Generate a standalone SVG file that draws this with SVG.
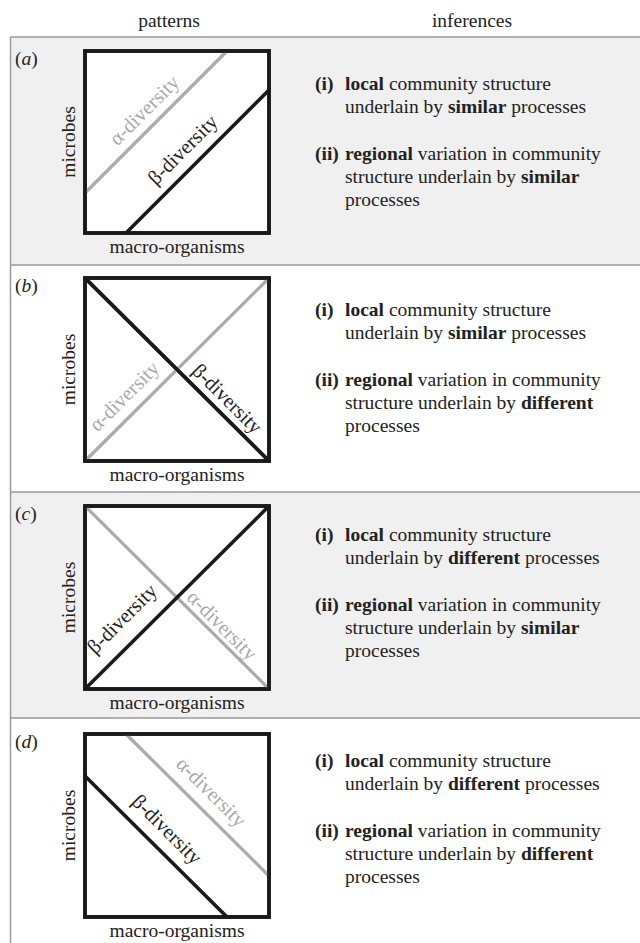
<svg xmlns="http://www.w3.org/2000/svg" width="640" height="943" viewBox="0 0 640 943">
<style>
text{font-family:"Liberation Serif","Times New Roman",serif;font-size:19.5px;fill:#222}
.b{font-weight:bold}
.it{font-style:italic}
.mid{text-anchor:middle}
.diag{font-size:20.5px;text-anchor:middle}
.ga{fill:#a9a9a9}
.box{fill:#fff;stroke:#1a1a1a;stroke-width:3.6}
.frame{fill:none;stroke:#1a1a1a;stroke-width:3.6}
.kl{stroke:#1a1a1a;stroke-width:3.6;fill:none}
.gl{stroke:#ababab;stroke-width:3.2;fill:none}
.sep{stroke:#9a9a9a;stroke-width:1.5;fill:none}
.shade{fill:#f0f0f0}
</style>

<g id="background">
<rect class="shade" x="10.5" y="37" width="630" height="228"/>
<rect class="shade" x="10.5" y="492" width="630" height="226"/>
<line class="sep" x1="10.5" y1="37" x2="640" y2="37"/>
<line class="sep" x1="10.5" y1="265" x2="640" y2="265"/>
<line class="sep" x1="10.5" y1="492" x2="640" y2="492"/>
<line class="sep" x1="10.5" y1="718" x2="640" y2="718"/>
<line class="sep" x1="10.5" y1="37" x2="10.5" y2="943"/>
</g>

<g id="header">
<text class="mid" x="169" y="27">patterns</text>
<text class="mid" x="472" y="27">inferences</text>
</g>

<g id="panel-a">
<text x="15" y="65">(<tspan class="it">a</tspan>)</text>
<rect class="box" x="85" y="51" width="184" height="182"/>
<line class="gl" x1="85" y1="193" x2="227" y2="51"/>
<line class="kl" x1="126" y1="233" x2="269" y2="90"/>
<rect class="frame" x="85" y="51" width="184" height="182"/>
<text class="diag ga" transform="translate(149,115) rotate(-45)">α-diversity</text>
<text class="diag" transform="translate(187.5,154.5) rotate(-45)">β-diversity</text>
<text class="mid" transform="translate(75,142) rotate(-90)">microbes</text>
<text class="mid" x="177" y="253">macro-organisms</text>
<text x="315" y="90"><tspan class="b">(i)</tspan></text>
<text x="345" y="90"><tspan class="b">local</tspan> community structure</text>
<text x="345" y="113">underlain by <tspan class="b">similar</tspan> processes</text>
<text x="315" y="160"><tspan class="b">(ii)</tspan></text>
<text x="345" y="160"><tspan class="b">regional</tspan> variation in community</text>
<text x="345" y="183">structure underlain by <tspan class="b">similar</tspan></text>
<text x="345" y="206">processes</text>
</g>

<g id="panel-b">
<text x="15" y="292">(<tspan class="it">b</tspan>)</text>
<rect class="box" x="85" y="278" width="184" height="183"/>
<line class="kl" x1="85" y1="278" x2="269" y2="461"/>
<line class="gl" x1="85" y1="461" x2="269" y2="278"/>
<line class="kl" x1="85" y1="278" x2="269" y2="461"/>
<rect class="frame" x="85" y="278" width="184" height="183"/>
<text class="diag ga" transform="translate(129,401) rotate(-45)">α-diversity</text>
<text class="diag" transform="translate(222.5,403.5) rotate(45)">β-diversity</text>
<text class="mid" transform="translate(75,369.5) rotate(-90)">microbes</text>
<text class="mid" x="177" y="481">macro-organisms</text>
<text x="315" y="315.5"><tspan class="b">(i)</tspan></text>
<text x="345" y="315.5"><tspan class="b">local</tspan> community structure</text>
<text x="345" y="338.5">underlain by <tspan class="b">similar</tspan> processes</text>
<text x="315" y="385.5"><tspan class="b">(ii)</tspan></text>
<text x="345" y="385.5"><tspan class="b">regional</tspan> variation in community</text>
<text x="345" y="408.5">structure underlain by <tspan class="b">different</tspan></text>
<text x="345" y="431.5">processes</text>
</g>

<g id="panel-c">
<text x="15" y="520">(<tspan class="it">c</tspan>)</text>
<rect class="box" x="85" y="506" width="184" height="183"/>
<line class="gl" x1="85" y1="506" x2="269" y2="689"/>
<line class="kl" x1="85" y1="689" x2="269" y2="506"/>
<rect class="frame" x="85" y="506" width="184" height="183"/>
<text class="diag" transform="translate(126.8,623.5) rotate(-45)">β-diversity</text>
<text class="diag ga" transform="translate(217.3,630.2) rotate(45)">α-diversity</text>
<text class="mid" transform="translate(75,597.5) rotate(-90)">microbes</text>
<text class="mid" x="177" y="709">macro-organisms</text>
<text x="315" y="541"><tspan class="b">(i)</tspan></text>
<text x="345" y="541"><tspan class="b">local</tspan> community structure</text>
<text x="345" y="564">underlain by <tspan class="b">different</tspan> processes</text>
<text x="315" y="611"><tspan class="b">(ii)</tspan></text>
<text x="345" y="611"><tspan class="b">regional</tspan> variation in community</text>
<text x="345" y="634">structure underlain by <tspan class="b">similar</tspan></text>
<text x="345" y="657">processes</text>
</g>

<g id="panel-d">
<text x="15" y="748">(<tspan class="it">d</tspan>)</text>
<rect class="box" x="85" y="734" width="184" height="183"/>
<line class="gl" x1="126" y1="734" x2="269" y2="876"/>
<line class="kl" x1="85" y1="776" x2="227" y2="917"/>
<rect class="frame" x="85" y="734" width="184" height="183"/>
<text class="diag ga" transform="translate(206.5,796.8) rotate(45)">α-diversity</text>
<text class="diag" transform="translate(162.3,834.3) rotate(45)">β-diversity</text>
<text class="mid" transform="translate(75,825.5) rotate(-90)">microbes</text>
<text class="mid" x="177" y="937">macro-organisms</text>
<text x="315" y="766.5"><tspan class="b">(i)</tspan></text>
<text x="345" y="766.5"><tspan class="b">local</tspan> community structure</text>
<text x="345" y="789.5">underlain by <tspan class="b">different</tspan> processes</text>
<text x="315" y="836.5"><tspan class="b">(ii)</tspan></text>
<text x="345" y="836.5"><tspan class="b">regional</tspan> variation in community</text>
<text x="345" y="859.5">structure underlain by <tspan class="b">different</tspan></text>
<text x="345" y="882.5">processes</text>
</g>
</svg>
